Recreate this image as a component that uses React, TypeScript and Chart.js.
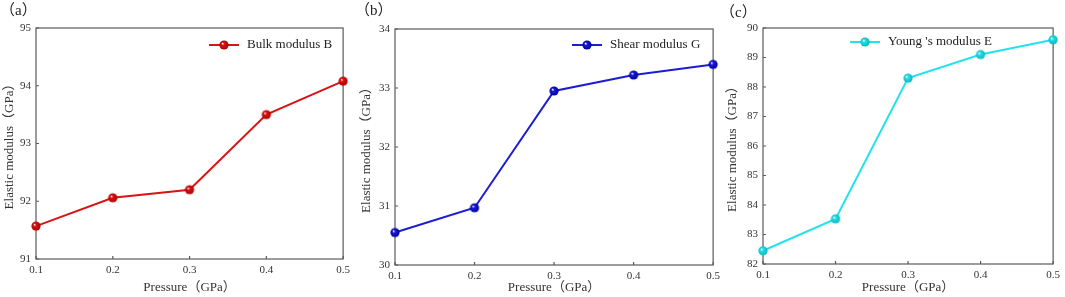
import React, { useEffect, useRef } from "react";
import { Chart, registerables } from "chart.js";

Chart.register(...registerables);

// ---- data ----
const pressure = [0.1, 0.2, 0.3, 0.4, 0.5];
const xTickLabels = [0.1, 0.2, 0.3, 0.4, 0.5];

const bulkB = [91.57, 92.06, 92.2, 93.5, 94.08];
const shearG = [30.55, 30.97, 32.95, 33.22, 33.4];
const youngE = [82.45, 83.53, 88.3, 89.1, 89.6];

const yTicksA = [91, 92, 93, 94, 95];
const yTicksB = [30, 31, 32, 33, 34];
const yTicksC = [82, 83, 84, 85, 86, 87, 88, 89, 90];

const legendA = "Bulk modulus B";
const legendB = "Shear modulus G";
const legendC = "Young 's modulus E";
const panelLabels = ["（a）", "（b）", "（c）"];
const xTitle = "Pressure（GPa）";
const yTitle = "Elastic modulus（GPa）";

const SERIF = "'Liberation Serif', 'Times New Roman', 'Noto Sans CJK SC', serif";

type PanelCfg = {
  left: number;
  width: number;
  area: { left: number; right: number; top: number; bottom: number };
  values: number[];
  yTicks: number[];
  color: string;
  dark: string;
  legend: string;
  legendPos: { x: number; y: number };
  label: string;
  labelPos: { x: number; y: number };
  xTitlePad: number;
  yTitlePad: number;
};

const H = 297;

const panels: PanelCfg[] = [
  {
    left: 0,
    width: 355,
    area: { left: 36, right: 345, top: 28, bottom: 259 },
    values: bulkB,
    yTicks: yTicksA,
    color: "#d81414",
    dark: "#b00000",
    legend: legendA,
    legendPos: { x: 209, y: 45 },
    label: panelLabels[0],
    labelPos: { x: 0, y: 11 },
    xTitlePad: 2,
    yTitlePad: 2,
  },
  {
    left: 355,
    width: 370,
    area: { left: 40, right: 359, top: 29, bottom: 265 },
    values: shearG,
    yTicks: yTicksB,
    color: "#1c1cd6",
    dark: "#0000a0",
    legend: legendB,
    legendPos: { x: 217, y: 45 },
    label: panelLabels[1],
    labelPos: { x: 0, y: 11 },
    xTitlePad: 2,
    yTitlePad: 4,
  },
  {
    left: 710,
    width: 355,
    area: { left: 53, right: 349, top: 28, bottom: 264 },
    values: youngE,
    yTicks: yTicksC,
    color: "#22e2ea",
    dark: "#10b4bc",
    legend: legendC,
    legendPos: { x: 140, y: 42 },
    label: panelLabels[2],
    labelPos: { x: 10, y: 13 },
    xTitlePad: 2,
    yTitlePad: 15,
  },
];

function makeSphere(color: string, dark: string, r: number): HTMLCanvasElement {
  const size = Math.ceil(r * 2 + 2);
  const c = document.createElement("canvas");
  c.width = size;
  c.height = size;
  const ctx = c.getContext("2d")!;
  const cx = size / 2;
  const g = ctx.createRadialGradient(cx - r * 0.35, cx - r * 0.35, r * 0.05, cx, cx, r);
  g.addColorStop(0, "#ffffff");
  g.addColorStop(0.3, color);
  g.addColorStop(1, dark);
  ctx.beginPath();
  ctx.arc(cx, cx, r, 0, Math.PI * 2);
  ctx.fillStyle = g;
  ctx.fill();
  return c;
}

function Panel({ cfg }: { cfg: PanelCfg }) {
  const ref = useRef<HTMLCanvasElement>(null);
  useEffect(() => {
    const canvas = ref.current!;
    const sphere = makeSphere(cfg.color, cfg.dark, 4.6);
    const axisColor = "#5a5a5a";

    const framePlugin = {
      id: "frame",
      beforeDatasetsDraw(chart: any) {
        const { ctx, chartArea } = chart;
        const { left, right, top, bottom } = chartArea;
        ctx.save();
        ctx.strokeStyle = axisColor;
        ctx.lineWidth = 1.2;
        ctx.strokeRect(left, top, right - left, bottom - top);
        const xs = chart.scales.x;
        const ys = chart.scales.y;
        ctx.beginPath();
        xs.ticks.forEach((t: any) => {
          const px = xs.getPixelForValue(t.value);
          ctx.moveTo(px, bottom);
          ctx.lineTo(px, bottom - 3);
        });
        ys.ticks.forEach((t: any) => {
          const py = ys.getPixelForValue(t.value);
          ctx.moveTo(left, py);
          ctx.lineTo(left + 3, py);
        });
        ctx.stroke();
        ctx.restore();
      },
      afterDraw(chart: any) {
        const { ctx } = chart;
        ctx.save();
        // legend
        const lx = cfg.legendPos.x;
        const ly = cfg.legendPos.y;
        ctx.strokeStyle = cfg.color;
        ctx.lineWidth = 2;
        ctx.beginPath();
        ctx.moveTo(lx, ly);
        ctx.lineTo(lx + 30, ly);
        ctx.stroke();
        ctx.drawImage(sphere, lx + 15 - sphere.width / 2, ly - sphere.height / 2);
        ctx.fillStyle = "#222";
        ctx.font = `13px ${SERIF}`;
        ctx.textAlign = "left";
        ctx.textBaseline = "middle";
        ctx.fillText(cfg.legend, lx + 38, ly);
        // panel label
        ctx.font = `15px ${SERIF}`;
        ctx.fillText(cfg.label, cfg.labelPos.x, cfg.labelPos.y);
        ctx.restore();
      },
    };

    const chart = new Chart(canvas, {
      type: "line",
      data: {
        datasets: [
          {
            label: cfg.legend,
            data: pressure.map((x, i) => ({ x, y: cfg.values[i] })),
            borderColor: cfg.color,
            borderWidth: 2,
            pointStyle: sphere as any,
            pointRadius: 5,
            pointHoverRadius: 5,
            tension: 0,
            clip: false as any,
          },
        ],
      },
      options: {
        animation: false,
        responsive: false,
        events: [],
        layout: {
          padding: {
            left: 0,
            top: cfg.area.top,
            right: cfg.width - cfg.area.right,
            bottom: 0,
          },
        },
        plugins: {
          legend: { display: false },
          tooltip: { enabled: false },
          title: { display: false },
        },
        scales: {
          x: {
            type: "linear",
            min: xTickLabels[0],
            max: xTickLabels[xTickLabels.length - 1],
            grid: { display: false, drawTicks: false },
            border: { display: false },
            afterBuildTicks: (scale: any) => {
              scale.ticks = xTickLabels.map((v) => ({ value: v }));
            },
            afterFit: (scale: any) => {
              scale.height = H - cfg.area.bottom;
            },
            ticks: {
              padding: 5,
              color: "#333",
              font: { family: SERIF, size: 11 },
              maxRotation: 0,
              callback: (v: any) => Number(v).toFixed(1),
            },
            title: {
              display: true,
              text: xTitle,
              color: "#333",
              font: { family: SERIF, size: 13 },
              padding: { top: 0, bottom: cfg.xTitlePad },
            },
          },
          y: {
            type: "linear",
            min: cfg.yTicks[0],
            max: cfg.yTicks[cfg.yTicks.length - 1],
            grid: { display: false, drawTicks: false },
            border: { display: false },
            afterBuildTicks: (scale: any) => {
              scale.ticks = cfg.yTicks.map((v) => ({ value: v }));
            },
            afterFit: (scale: any) => {
              scale.width = cfg.area.left;
            },
            ticks: {
              padding: 5,
              color: "#333",
              font: { family: SERIF, size: 11 },
              callback: (v: any) => String(v),
            },
            title: {
              display: true,
              text: yTitle,
              color: "#333",
              font: { family: SERIF, size: 13 },
              padding: { top: cfg.yTitlePad, bottom: 0 },
            },
          },
        },
      },
      plugins: [framePlugin],
    });
    return () => chart.destroy();
  }, [cfg]);

  return (
    <canvas
      ref={ref}
      width={cfg.width}
      height={H}
      style={{ position: "absolute", left: cfg.left, top: 0, width: cfg.width, height: H }}
    />
  );
}

export default function App() {
  return (
    <div style={{ position: "absolute", left: 0, top: 0, width: 1065, height: H, background: "#fff" }}>
      {panels.map((p, i) => (
        <Panel key={i} cfg={p} />
      ))}
    </div>
  );
}
